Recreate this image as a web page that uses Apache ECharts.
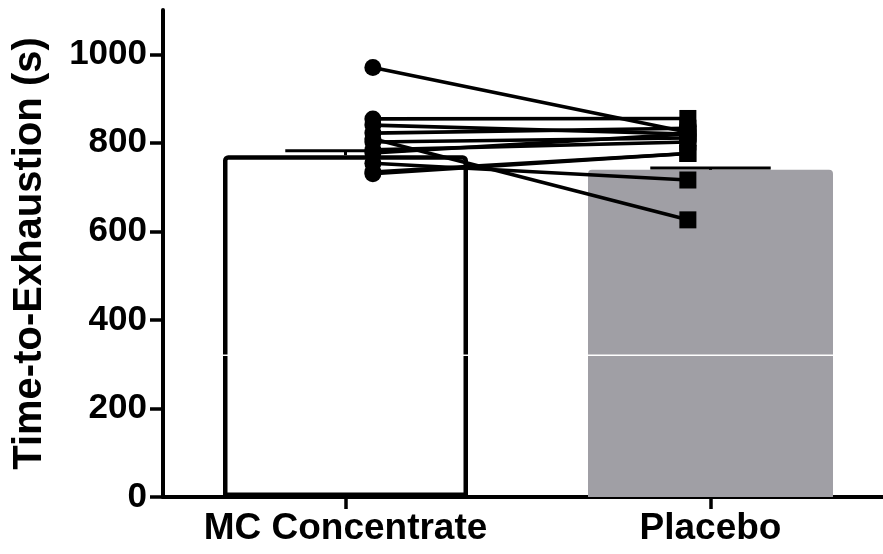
<!DOCTYPE html>
<html>
<head>
<meta charset="utf-8">
<script src="https://cdn.jsdelivr.net/npm/echarts@6/dist/echarts.min.js"></script>
<style>
  html, body { margin: 0; padding: 0; background: #fff; }
  #chart { width: 883px; height: 554px; }
</style>
</head>
<body>
<div id="chart"></div>
<script>
// ---- data ----
const categories = ['MC Concentrate', 'Placebo'];
const barMeans = [772, 739];
const barErrors = [10, 4];
const mcValues = [970, 854, 840, 822, 809, 802, 784, 777, 754, 734, 730];
const placeboValues = [824, 855, 820, 833, 626, 811, 802, 820, 716, 776, 776];
const yTicks = [0, 200, 400, 600, 800, 1000];
const breakValue = 320;

// ---- layout constants (category units) ----
const mcOffset = 0.075;
const plOffset = -0.062;

const FONT = 'Liberation Sans, Arial, sans-serif';
const chart = echarts.init(document.getElementById('chart'));

const pairSeries = mcValues.map((v, i) => ({
  type: 'line',
  xAxisIndex: 1,
  yAxisIndex: 0,
  data: [[0.5 + mcOffset, v], [1.5 + plOffset, placeboValues[i]]],
  showSymbol: false,
  symbol: 'none',
  lineStyle: { color: '#000', width: 3.6 },
  z: 5,
  silent: true,
  animation: false
}));

const option = {
  animation: false,
  grid: { left: 163, width: 730, top: 10, bottom: 57, containLabel: false, outerBoundsMode: 'none' },
  xAxis: [
    {
      type: 'category',
      data: categories,
      boundaryGap: true,
      axisLine: { show: true, lineStyle: { color: '#000', width: 4 } },
      axisTick: { show: true, interval: 0, alignWithLabel: true, length: 12, lineStyle: { color: '#000', width: 3.5 } },
      axisLabel: { show: true, interval: 0, hideOverlap: false, color: '#000', fontFamily: FONT, fontWeight: 'bold', fontSize: 37, margin: 13 },
      splitLine: { show: false }
    },
    {
      type: 'value', min: 0, max: 2, show: false
    }
  ],
  yAxis: {
    type: 'value',
    min: 0,
    max: 1100,
    interval: 200,
    name: 'Time-to-Exhaustion (s)',
    nameLocation: 'middle',
    nameGap: 113,
    nameTextStyle: { color: '#000', fontFamily: FONT, fontWeight: 'bold', fontSize: 40 },
    axisLine: { show: true, lineStyle: { color: '#000', width: 4 } },
    axisTick: { show: true, length: 13, customValues: yTicks, lineStyle: { color: '#000', width: 3.5 } },
    axisLabel: {
      color: '#000', fontFamily: FONT, fontWeight: 'bold', fontSize: 35, margin: 16, customValues: yTicks,
      formatter: v => String(v)
    },
    splitLine: { show: false }
  },
  series: [
    {
      type: 'bar',
      xAxisIndex: 0,
      barWidth: 245,
      data: [
        { value: barMeans[0], itemStyle: { color: '#fff', borderColor: '#000', borderWidth: 4.5, borderRadius: [3, 3, 0, 0] } },
        { value: barMeans[1], itemStyle: { color: '#a09fa5', borderWidth: 0, borderRadius: [4, 4, 0, 0] } }
      ],
      z: 2
    },
    {
      type: 'custom',
      xAxisIndex: 0,
      data: categories.map((c, i) => [i, breakValue]),
      renderItem: function (params, api) {
        const p = api.coord([api.value(0), api.value(1)]);
        const w = api.size([1, 0])[0] * 0.685;
        return { type: 'rect', shape: { x: p[0] - w / 2, y: p[1] - 0.75, width: w, height: 1.5 }, style: { fill: '#fff' } };
      },
      z: 3,
      silent: true
    },
    {
      type: 'custom',
      xAxisIndex: 0,
      data: barMeans.map((m, i) => [i, m, barErrors[i]]),
      renderItem: function (params, api) {
        const idx = api.value(0);
        const base = api.coord([idx, api.value(1)]);
        const top = api.coord([idx, api.value(1) + api.value(2)]);
        const cw = api.size([1, 0])[0] * 0.33;
        return {
          type: 'group',
          children: [
            { type: 'line', shape: { x1: base[0], y1: base[1], x2: top[0], y2: top[1] }, style: { stroke: '#000', lineWidth: 3 } },
            { type: 'line', shape: { x1: top[0] - cw / 2, y1: top[1], x2: top[0] + cw / 2, y2: top[1] }, style: { stroke: '#000', lineWidth: 3 } }
          ]
        };
      },
      z: 4,
      silent: true
    },
    ...pairSeries,
    {
      type: 'scatter',
      xAxisIndex: 1,
      data: mcValues.map(v => [0.5 + mcOffset, v]),
      symbol: 'circle',
      symbolSize: 17,
      itemStyle: { color: '#000', opacity: 1 },
      z: 6
    },
    {
      type: 'scatter',
      xAxisIndex: 1,
      data: placeboValues.map(v => [1.5 + plOffset, v]),
      symbol: 'rect',
      symbolSize: 17,
      itemStyle: { color: '#000', opacity: 1 },
      z: 6
    }
  ]
};
chart.setOption(option);
</script>
</body>
</html>
